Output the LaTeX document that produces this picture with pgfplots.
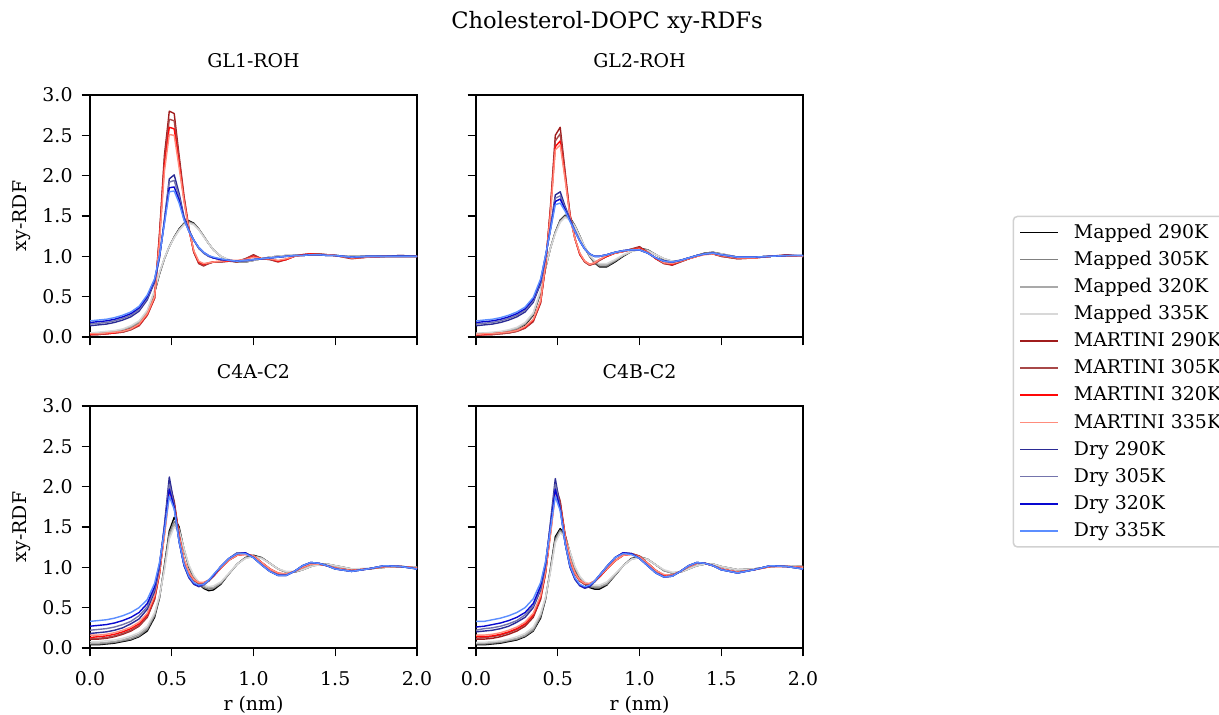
\documentclass[border=0pt]{standalone}
\usepackage{fontspec}
\setmainfont{DejaVu Serif}
\usepackage{pgfplots}
\usepackage{pgfplotstable}
\pgfplotsset{compat=1.18}
\newcommand\fs{\fontsize{9.45}{11}\selectfont}
\newcommand\ft{\fontsize{11.3}{13}\selectfont}
\definecolor{cMa}{RGB}{0,0,0}
\definecolor{cMb}{RGB}{128,128,128}
\definecolor{cMc}{RGB}{169,169,169}
\definecolor{cMd}{RGB}{216,216,216}
\definecolor{cTa}{RGB}{160,28,28}
\definecolor{cTb}{RGB}{168,72,72}
\definecolor{cTc}{RGB}{255,8,8}
\definecolor{cTd}{RGB}{255,140,124}
\definecolor{cDa}{RGB}{43,43,149}
\definecolor{cDb}{RGB}{116,116,172}
\definecolor{cDc}{RGB}{8,8,208}
\definecolor{cDd}{RGB}{92,142,255}

% GL1-ROH
\pgfplotstableread{
r M1 M2 M3 M4 T1 T2 T3 T4 D1 D2 D3 D4
0.00 .04 .04 .05 .05 .03 .03 .03 .04 .14 .16 .18 .20
0.05 .05 .05 .05 .06 .03 .03 .04 .04 .15 .17 .19 .21
0.10 .05 .06 .06 .07 .04 .04 .04 .05 .16 .18 .20 .22
0.15 .06 .07 .07 .08 .05 .05 .05 .06 .18 .20 .22 .24
0.20 .08 .09 .09 .10 .06 .06 .07 .07 .21 .23 .25 .27
0.25 .11 .12 .13 .14 .09 .09 .10 .10 .25 .27 .29 .31
0.30 .17 .18 .19 .20 .14 .14 .15 .16 .32 .34 .36 .38
0.35 .30 .31 .32 .33 .27 .27 .28 .29 .46 .48 .50 .52
0.395 .55 .56 .57 .58 .48 .48 .49 .50 .68 .70 .71 .72
0.425 .78 .79 .79 .80 1.28 1.25 1.22 1.18 .98 .99 1.00 1.01
0.455 .97 .97 .97 .98 2.25 2.18 2.12 2.05 1.45 1.44 1.42 1.40
0.485 1.12 1.12 1.12 1.12 2.80 2.70 2.60 2.51 1.96 1.92 1.85 1.80
0.515 1.24 1.24 1.23 1.23 2.77 2.68 2.58 2.50 2.01 1.94 1.86 1.81
0.545 1.34 1.33 1.33 1.32 2.25 2.20 2.15 2.10 1.78 1.74 1.70 1.66
0.575 1.41 1.40 1.40 1.39 1.75 1.72 1.70 1.68 1.49 1.47 1.46 1.45
0.605 1.44 1.43 1.42 1.41 1.35 1.34 1.33 1.33 1.33 1.32 1.31 1.31
0.635 1.41 1.40 1.40 1.39 1.05 1.05 1.06 1.07 1.20 1.20 1.20 1.20
0.665 1.34 1.34 1.33 1.33 .91 .92 .93 .94 1.10 1.10 1.11 1.11
0.695 1.25 1.25 1.25 1.24 .88 .89 .90 .91 1.04 1.04 1.05 1.05
0.725 1.16 1.16 1.16 1.16 .91 .91 .92 .92 1.00 1.00 1.01 1.01
0.755 1.08 1.08 1.08 1.08 .93 .93 .93 .93 .98 .98 .98 .99
0.80 1.00 1.00 1.00 1.00 .93 .93 .94 .94 .96 .96 .96 .97
0.85 .95 .95 .95 .96 .94 .94 .94 .95 .95 .95 .95 .95
0.90 .93 .93 .93 .94 .93 .94 .94 .95 .94 .94 .94 .94
0.95 .93 .93 .93 .94 .97 .97 .96 .96 .94 .94 .95 .95
1.00 .95 .95 .95 .95 1.02 1.01 1.00 .99 .96 .96 .96 .96
1.05 .97 .97 .97 .97 .97 .97 .97 .97 .97 .97 .97 .97
1.10 .99 .99 .99 .99 .96 .96 .97 .97 .98 .98 .98 .98
1.15 1.00 1.00 1.00 1.00 .93 .94 .94 .95 .99 .99 .99 .99
1.20 1.01 1.01 1.01 1.01 .96 .96 .96 .97 1.00 1.00 1.00 1.00
1.25 1.01 1.01 1.01 1.01 1.00 1.00 1.00 1.00 1.01 1.01 1.01 1.01
1.30 1.02 1.02 1.02 1.02 1.02 1.02 1.02 1.01 1.01 1.01 1.01 1.01
1.35 1.02 1.02 1.02 1.02 1.03 1.03 1.03 1.02 1.02 1.02 1.02 1.02
1.40 1.02 1.02 1.02 1.02 1.03 1.03 1.02 1.02 1.02 1.02 1.02 1.02
1.45 1.02 1.02 1.02 1.02 1.02 1.02 1.02 1.02 1.01 1.01 1.01 1.01
1.50 1.01 1.01 1.01 1.01 1.01 1.01 1.01 1.01 1.01 1.01 1.01 1.01
1.60 1.00 1.00 1.00 1.00 .97 .98 .98 .98 .99 .99 .99 .99
1.70 1.00 1.00 1.00 1.00 .99 .99 .99 .99 1.00 1.00 1.00 1.00
1.80 1.00 1.00 1.00 1.00 1.00 1.00 1.00 1.00 1.00 1.00 1.00 1.00
1.90 1.00 1.00 1.00 1.00 1.01 1.00 1.00 1.00 1.01 1.00 1.00 1.00
2.00 1.00 1.00 1.00 1.00 1.00 1.00 1.00 1.00 1.00 1.00 1.00 1.00
}\tabA

% GL2-ROH
\pgfplotstableread{
r M1 M2 M3 M4 T1 T2 T3 T4 D1 D2 D3 D4
0.00 .03 .04 .04 .05 .02 .03 .03 .03 .14 .16 .18 .20
0.05 .04 .04 .05 .05 .03 .03 .03 .04 .15 .17 .19 .21
0.10 .04 .05 .05 .06 .03 .03 .04 .04 .16 .18 .20 .22
0.15 .05 .06 .06 .07 .04 .04 .05 .05 .18 .20 .22 .24
0.20 .07 .07 .08 .09 .05 .05 .06 .06 .21 .23 .25 .27
0.25 .10 .10 .11 .12 .07 .07 .08 .08 .25 .27 .29 .31
0.30 .15 .16 .17 .18 .11 .11 .12 .13 .31 .33 .35 .37
0.35 .27 .28 .29 .30 .19 .20 .21 .22 .43 .45 .47 .49
0.395 .55 .56 .57 .58 .42 .43 .44 .45 .66 .68 .70 .72
0.425 .85 .85 .86 .86 .88 .88 .89 .90 .98 .99 1.00 1.01
0.455 1.10 1.10 1.10 1.10 1.60 1.58 1.55 1.52 1.35 1.34 1.33 1.32
0.485 1.30 1.30 1.29 1.28 2.50 2.43 2.36 2.32 1.76 1.72 1.68 1.64
0.515 1.45 1.44 1.43 1.42 2.60 2.52 2.43 2.38 1.80 1.75 1.71 1.66
0.545 1.51 1.50 1.49 1.48 2.05 2.02 1.98 1.95 1.62 1.60 1.58 1.56
0.575 1.48 1.47 1.46 1.45 1.52 1.51 1.50 1.49 1.46 1.45 1.44 1.43
0.605 1.38 1.38 1.37 1.37 1.22 1.22 1.22 1.22 1.32 1.32 1.31 1.31
0.635 1.25 1.25 1.24 1.24 1.02 1.03 1.03 1.04 1.19 1.19 1.19 1.19
0.665 1.11 1.11 1.12 1.12 .93 .93 .94 .94 1.09 1.09 1.09 1.09
0.695 1.00 1.00 1.01 1.01 .89 .89 .90 .90 1.03 1.03 1.03 1.03
0.725 .92 .93 .94 .95 .91 .91 .92 .92 1.00 1.00 1.00 1.00
0.755 .87 .88 .90 .91 .95 .95 .96 .96 1.00 1.00 1.00 1.00
0.80 .87 .88 .90 .91 1.00 1.00 1.00 1.01 1.02 1.02 1.02 1.02
0.85 .93 .94 .95 .96 1.04 1.04 1.04 1.04 1.05 1.05 1.05 1.05
0.90 1.00 1.01 1.01 1.02 1.06 1.06 1.06 1.06 1.07 1.07 1.07 1.07
0.95 1.06 1.06 1.06 1.06 1.09 1.09 1.08 1.08 1.08 1.08 1.08 1.08
1.00 1.10 1.09 1.09 1.08 1.12 1.11 1.10 1.09 1.08 1.08 1.08 1.08
1.05 1.08 1.08 1.07 1.07 1.05 1.05 1.05 1.05 1.04 1.04 1.04 1.04
1.10 1.02 1.02 1.02 1.02 .97 .97 .97 .98 .98 .98 .98 .98
1.15 .96 .97 .97 .97 .91 .91 .92 .92 .94 .94 .94 .94
1.20 .93 .94 .94 .94 .89 .90 .90 .91 .93 .93 .93 .93
1.25 .94 .94 .95 .95 .93 .93 .94 .94 .95 .95 .95 .95
1.30 .97 .97 .98 .98 .97 .97 .97 .97 .98 .98 .98 .98
1.35 1.01 1.01 1.01 1.01 1.00 1.00 1.00 1.00 1.01 1.01 1.01 1.01
1.40 1.04 1.04 1.03 1.03 1.03 1.03 1.03 1.02 1.03 1.03 1.03 1.03
1.45 1.05 1.05 1.04 1.04 1.03 1.03 1.03 1.03 1.04 1.04 1.04 1.04
1.50 1.03 1.03 1.03 1.03 1.00 1.00 1.01 1.01 1.02 1.02 1.02 1.02
1.60 .99 .99 .99 .99 .97 .97 .98 .98 .99 .99 .99 .99
1.70 .99 .99 .99 .99 .98 .98 .98 .98 .99 .99 .99 .99
1.80 1.00 1.00 1.00 1.00 1.00 1.00 1.00 1.00 1.00 1.00 1.00 1.00
1.90 1.01 1.01 1.01 1.01 1.02 1.01 1.01 1.01 1.01 1.01 1.01 1.01
2.00 1.00 1.00 1.00 1.00 1.00 1.00 1.00 1.00 1.01 1.01 1.01 1.01
}\tabB

% C4A-C2
\pgfplotstableread{
r M1 M2 M3 M4 T1 T2 T3 T4 D1 D2 D3 D4
0.00 .04 .05 .06 .08 .11 .12 .13 .16 .18 .22 .27 .33
0.05 .04 .05 .06 .08 .11 .12 .14 .16 .19 .23 .28 .34
0.10 .05 .06 .07 .09 .12 .13 .15 .17 .20 .24 .29 .35
0.15 .06 .07 .08 .10 .14 .15 .17 .19 .22 .26 .31 .37
0.20 .08 .09 .10 .12 .17 .18 .20 .22 .25 .29 .34 .40
0.25 .10 .11 .13 .15 .21 .22 .24 .26 .30 .33 .38 .44
0.30 .14 .15 .17 .19 .27 .28 .30 .32 .36 .40 .44 .50
0.35 .21 .23 .25 .27 .38 .39 .41 .43 .48 .51 .55 .60
0.395 .38 .40 .42 .44 .60 .61 .63 .65 .70 .73 .76 .80
0.425 .62 .63 .64 .65 .92 .92 .93 .94 1.00 1.02 1.04 1.06
0.455 1.02 1.00 .98 .96 1.45 1.43 1.41 1.38 1.52 1.50 1.48 1.45
0.485 1.45 1.42 1.38 1.35 2.05 2.00 1.95 1.90 2.12 2.03 1.97 1.88
0.515 1.62 1.57 1.53 1.50 1.82 1.80 1.78 1.75 1.78 1.76 1.74 1.72
0.545 1.50 1.48 1.46 1.45 1.40 1.40 1.39 1.38 1.32 1.32 1.32 1.32
0.575 1.22 1.22 1.23 1.23 1.08 1.09 1.09 1.10 1.02 1.03 1.03 1.04
0.605 1.00 1.01 1.02 1.03 .92 .93 .93 .94 .87 .88 .88 .89
0.635 .87 .88 .89 .90 .84 .84 .85 .85 .79 .80 .80 .81
0.665 .79 .80 .81 .82 .80 .80 .81 .81 .76 .77 .77 .78
0.695 .74 .75 .77 .78 .80 .80 .81 .81 .78 .78 .79 .79
0.725 .71 .73 .75 .76 .83 .83 .84 .84 .83 .83 .84 .84
0.755 .72 .74 .75 .77 .89 .89 .89 .90 .90 .90 .90 .91
0.80 .79 .80 .81 .82 .99 .99 .99 .99 1.01 1.01 1.01 1.01
0.85 .92 .92 .92 .93 1.09 1.09 1.09 1.09 1.11 1.11 1.11 1.11
0.90 1.04 1.04 1.04 1.04 1.15 1.15 1.15 1.15 1.18 1.18 1.17 1.17
0.95 1.12 1.12 1.11 1.11 1.17 1.17 1.16 1.16 1.18 1.18 1.18 1.17
1.00 1.15 1.14 1.14 1.13 1.14 1.14 1.14 1.14 1.12 1.12 1.12 1.12
1.05 1.12 1.12 1.11 1.11 1.06 1.06 1.06 1.06 1.03 1.03 1.03 1.03
1.10 1.05 1.05 1.05 1.05 .98 .98 .98 .98 .95 .95 .95 .95
1.15 .98 .98 .98 .98 .92 .92 .93 .93 .90 .90 .90 .90
1.20 .94 .94 .94 .95 .91 .91 .91 .92 .90 .90 .90 .90
1.25 .94 .94 .94 .95 .95 .95 .95 .95 .95 .95 .95 .95
1.30 .97 .97 .97 .97 1.00 1.00 1.00 1.00 1.02 1.02 1.02 1.02
1.35 1.01 1.01 1.01 1.01 1.04 1.04 1.04 1.04 1.06 1.06 1.06 1.06
1.40 1.04 1.04 1.03 1.03 1.04 1.04 1.04 1.04 1.05 1.05 1.05 1.05
1.45 1.04 1.04 1.04 1.04 1.02 1.02 1.02 1.02 1.02 1.02 1.02 1.02
1.50 1.02 1.02 1.02 1.02 .99 .99 .99 .99 .98 .98 .98 .98
1.60 .98 .98 .98 .98 .96 .96 .96 .96 .95 .95 .95 .95
1.70 .98 .98 .98 .99 .98 .98 .98 .98 .98 .98 .98 .98
1.80 1.00 1.00 1.00 1.00 1.01 1.01 1.01 1.01 1.02 1.02 1.02 1.02
1.90 1.01 1.01 1.01 1.01 1.01 1.01 1.01 1.01 1.01 1.01 1.01 1.01
2.00 1.00 1.00 1.00 1.00 .99 .99 .99 .99 .98 .98 .98 .98
}\tabC

% C4B-C2
\pgfplotstableread{
r M1 M2 M3 M4 T1 T2 T3 T4 D1 D2 D3 D4
0.00 .04 .05 .06 .07 .11 .12 .14 .16 .20 .22 .26 .33
0.05 .04 .05 .06 .07 .11 .13 .14 .16 .21 .24 .27 .33
0.10 .05 .06 .07 .08 .12 .14 .15 .17 .22 .25 .29 .35
0.15 .06 .07 .08 .09 .14 .16 .17 .19 .24 .27 .31 .37
0.20 .08 .09 .10 .11 .17 .19 .20 .22 .27 .30 .34 .40
0.25 .10 .11 .12 .14 .21 .23 .24 .26 .32 .34 .38 .44
0.30 .14 .15 .16 .18 .27 .29 .30 .32 .38 .41 .44 .50
0.35 .21 .22 .24 .26 .38 .40 .41 .43 .50 .52 .55 .61
0.395 .37 .39 .41 .43 .60 .62 .63 .65 .72 .74 .77 .81
0.425 .60 .61 .62 .63 .92 .93 .94 .95 1.02 1.03 1.05 1.07
0.455 .98 .97 .95 .94 1.45 1.43 1.41 1.39 1.55 1.52 1.50 1.47
0.485 1.38 1.35 1.32 1.30 2.02 1.98 1.94 1.90 2.10 2.03 1.97 1.88
0.515 1.48 1.46 1.44 1.43 1.82 1.80 1.78 1.75 1.75 1.74 1.72 1.70
0.545 1.40 1.39 1.38 1.37 1.40 1.40 1.39 1.38 1.30 1.30 1.30 1.30
0.575 1.18 1.18 1.19 1.19 1.08 1.09 1.09 1.10 1.00 1.01 1.01 1.02
0.605 .98 .99 1.00 1.01 .92 .92 .93 .93 .85 .86 .86 .87
0.635 .86 .87 .88 .89 .83 .83 .84 .84 .77 .78 .78 .79
0.665 .79 .80 .81 .82 .79 .79 .80 .80 .74 .75 .75 .76
0.695 .75 .76 .78 .79 .79 .79 .80 .80 .76 .77 .77 .78
0.725 .73 .75 .76 .78 .82 .82 .83 .83 .82 .82 .83 .83
0.755 .73 .75 .76 .78 .88 .88 .88 .89 .90 .90 .90 .90
0.80 .78 .79 .80 .82 .98 .98 .98 .98 1.01 1.01 1.01 1.01
0.85 .90 .90 .91 .92 1.08 1.08 1.08 1.08 1.12 1.12 1.12 1.12
0.90 1.02 1.02 1.02 1.02 1.15 1.15 1.15 1.15 1.18 1.18 1.18 1.17
0.95 1.11 1.10 1.10 1.10 1.17 1.17 1.16 1.16 1.17 1.17 1.17 1.16
1.00 1.13 1.13 1.12 1.12 1.14 1.14 1.13 1.13 1.11 1.11 1.11 1.11
1.05 1.10 1.10 1.10 1.10 1.05 1.05 1.05 1.05 1.02 1.02 1.02 1.02
1.10 1.03 1.03 1.03 1.03 .96 .96 .96 .96 .93 .93 .93 .93
1.15 .96 .96 .96 .97 .90 .90 .90 .91 .88 .88 .88 .88
1.20 .93 .93 .93 .94 .90 .90 .90 .90 .89 .89 .89 .89
1.25 .94 .94 .94 .94 .95 .95 .95 .95 .95 .95 .95 .95
1.30 .98 .98 .98 .98 1.01 1.01 1.01 1.01 1.02 1.02 1.02 1.02
1.35 1.02 1.02 1.02 1.02 1.05 1.05 1.05 1.05 1.06 1.06 1.06 1.06
1.40 1.04 1.04 1.04 1.04 1.05 1.05 1.05 1.05 1.05 1.05 1.05 1.05
1.45 1.04 1.04 1.04 1.04 1.02 1.02 1.02 1.02 1.02 1.02 1.02 1.02
1.50 1.01 1.01 1.01 1.01 .98 .98 .98 .98 .97 .97 .97 .97
1.60 .97 .97 .97 .97 .94 .94 .94 .94 .93 .93 .93 .93
1.70 .98 .98 .98 .98 .97 .97 .97 .97 .97 .97 .97 .97
1.80 1.01 1.01 1.01 1.01 1.01 1.01 1.01 1.01 1.02 1.02 1.02 1.02
1.90 1.02 1.02 1.02 1.02 1.01 1.01 1.01 1.01 1.01 1.01 1.01 1.01
2.00 1.01 1.01 1.01 1.01 1.00 1.00 1.00 1.00 .98 .98 .98 .98
}\tabD

\newcommand\allplots[2]{%
\addplot[color=cMa,#2] table[x=r,y=M1]{#1};
\addplot[color=cMb,#2] table[x=r,y=M2]{#1};
\addplot[color=cMc,#2] table[x=r,y=M3]{#1};
\addplot[color=cMd,#2] table[x=r,y=M4]{#1};
\addplot[color=cTa,#2] table[x=r,y=T1]{#1};
\addplot[color=cTb,#2] table[x=r,y=T2]{#1};
\addplot[color=cTc,#2] table[x=r,y=T3]{#1};
\addplot[color=cTd,#2] table[x=r,y=T4]{#1};
\addplot[color=cDa,#2] table[x=r,y=D1]{#1};
\addplot[color=cDb,#2] table[x=r,y=D2]{#1};
\addplot[color=cDc,#2] table[x=r,y=D3]{#1};
\addplot[color=cDd,#2] table[x=r,y=D4]{#1};
}

\pgfplotsset{
  rdf/.style={
    scale only axis, width=163.5pt, height=121pt, anchor=south west,
    xmin=0, xmax=2, ymin=0, ymax=3,
    xtick={0,0.5,1,1.5,2}, ytick={0,0.5,1,1.5,2,2.5,3},
    xticklabels={0.0,0.5,1.0,1.5,2.0},
    yticklabels={0.0,0.5,1.0,1.5,2.0,2.5,3.0},
    tick align=outside, major tick length=4.2pt,
    tick style={black, line width=0.7pt},
    axis line style={black, line width=0.7pt},
    xtick pos=bottom, ytick pos=left,
    tick label style={font=\fs},
    xticklabel style={yshift=-4pt},
    yticklabel style={xshift=-1pt},
    /pgf/number format/assume math mode=true,
    label style={font=\fs},
    title style={font=\fs, at={(0.5,1)}, anchor=base, yshift=7.5pt},
    every axis plot/.append style={line width=0.7pt, no markers, line join=round},
    clip=true,
  },
  noxl/.style={xticklabels={}},
  noyl/.style={yticklabels={}},
  yl/.style={ylabel={xy-RDF}, ylabel style={at={(axis description cs:-0.2092,0.5)}, anchor=center}},
  xl/.style={xlabel={r (nm)}, xlabel style={at={(axis description cs:0.5,0)}, anchor=base, yshift=-31.5pt}},
  lgimg/.style={line width=0.8pt},
}

\begin{document}
\begin{tikzpicture}
\begin{axis}[rdf, noxl, yl, at={(45pt,189pt)}, title={GL1-ROH}]
\allplots{\tabA}{}
\end{axis}
\begin{axis}[rdf, noxl, noyl, at={(238pt,189pt)}, title={GL2-ROH},
  legend cell align=left,
  legend image code/.code={\draw[#1] (0pt,0pt) -- (19pt,0pt);},
  legend style={at={(1.641,0.5012)}, anchor=north west, draw=black!18, line width=0.75pt,
    rounded corners=2pt, fill=white, font=\fs, inner xsep=3pt, inner ysep=1.2pt,
    row sep=0pt, column sep=0pt,
    nodes={inner xsep=7.5pt, inner ysep=0pt, text height=9.6pt, text depth=3.97pt}}]
\allplots{\tabB}{forget plot}
\addlegendimage{lgimg, draw=cMa}\addlegendentry{Mapped 290K}
\addlegendimage{lgimg, draw=cMb}\addlegendentry{Mapped 305K}
\addlegendimage{lgimg, draw=cMc}\addlegendentry{Mapped 320K}
\addlegendimage{lgimg, draw=cMd}\addlegendentry{Mapped 335K}
\addlegendimage{lgimg, draw=cTa}\addlegendentry{MARTINI 290K}
\addlegendimage{lgimg, draw=cTb}\addlegendentry{MARTINI 305K}
\addlegendimage{lgimg, draw=cTc}\addlegendentry{MARTINI 320K}
\addlegendimage{lgimg, draw=cTd}\addlegendentry{MARTINI 335K}
\addlegendimage{lgimg, draw=cDa}\addlegendentry{Dry 290K}
\addlegendimage{lgimg, draw=cDb}\addlegendentry{Dry 305K}
\addlegendimage{lgimg, draw=cDc}\addlegendentry{Dry 320K}
\addlegendimage{lgimg, draw=cDd}\addlegendentry{Dry 335K}
\end{axis}
\begin{axis}[rdf, yl, xl, at={(45pt,33.5pt)}, title={C4A-C2}]
\allplots{\tabC}{}
\end{axis}
\begin{axis}[rdf, noyl, xl, at={(238pt,33.5pt)}, title={C4B-C2}]
\allplots{\tabD}{}
\end{axis}
\node[anchor=base, font=\ft] at (303.5pt,343pt) {Cholesterol-DOPC xy-RDFs};
\pgfresetboundingbox
\path[use as bounding box] (0,0) rectangle (609.5pt,357.5pt);
\end{tikzpicture}
\end{document}
